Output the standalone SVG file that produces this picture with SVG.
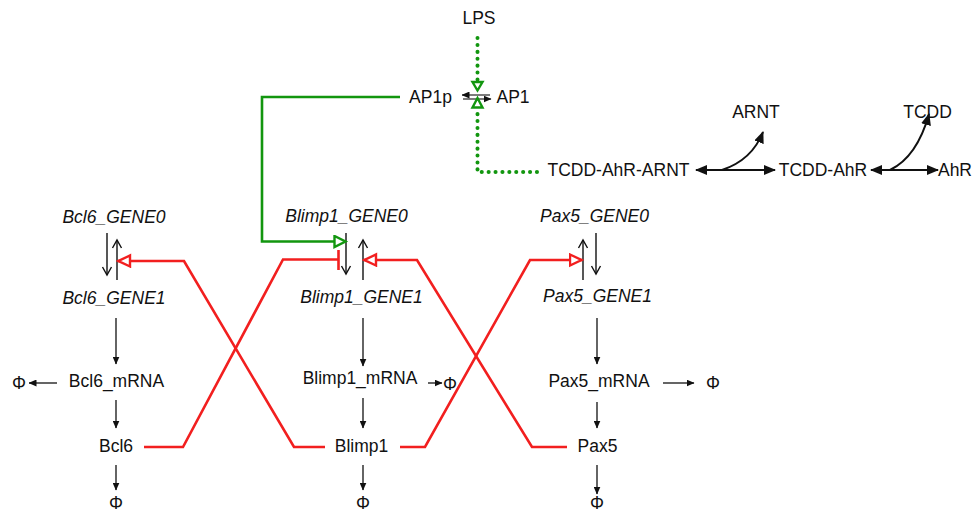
<svg xmlns="http://www.w3.org/2000/svg" width="977" height="512" viewBox="0 0 977 512">
<style>
text{font-family:"Liberation Sans",Arial,sans-serif;font-size:17.5px;fill:#111;text-anchor:middle}
.it{font-style:italic}
.thin{stroke:#111;stroke-width:1.3;fill:none;marker-end:url(#tri)}
.gene{stroke:#111;stroke-width:1.4;fill:none;marker-end:url(#vh)}
.bold{stroke:#111;stroke-width:2;fill:none}
.red{stroke:#f21f1f;stroke-width:2.6;fill:none;stroke-linejoin:miter}
.grn{stroke:#12960f;stroke-width:2.6;fill:none}
.dot{stroke:#12960f;stroke-width:4;fill:none;stroke-dasharray:0.1 6.8;stroke-linecap:round;stroke-linejoin:round}
</style>
<defs>
<marker id="tri" markerUnits="userSpaceOnUse" markerWidth="8" markerHeight="7" refX="7.5" refY="3.5" orient="auto"><path d="M0,0 L8,3.5 L0,7 z" fill="#111"/></marker>
<marker id="vh" markerUnits="userSpaceOnUse" markerWidth="12" markerHeight="12" refX="10" refY="6" orient="auto"><path d="M2,1.5 L10,6 L2,10.5" fill="none" stroke="#111" stroke-width="1.4"/></marker>
<marker id="big" markerUnits="userSpaceOnUse" markerWidth="12" markerHeight="10" refX="11" refY="5" orient="auto-start-reverse"><path d="M0,0 L12,5 L0,10 z" fill="#111"/></marker>
<marker id="gt" markerUnits="userSpaceOnUse" markerWidth="16" markerHeight="16" refX="13" refY="7" orient="auto"><path d="M1.5,1.5 L12.5,7 L1.5,12.5 z" fill="#fff" stroke="#12960f" stroke-width="2.4"/></marker>
<marker id="rt" markerUnits="userSpaceOnUse" markerWidth="16" markerHeight="16" refX="13.5" refY="7" orient="auto"><path d="M1.5,1.5 L13,7 L1.5,12.5 z" fill="#fff" stroke="#f21f1f" stroke-width="2.4"/></marker>
</defs>
<g id="connectors">
<!-- gene switches -->
<path class="gene" d="M107,233 L107,275"/>
<path class="gene" d="M117,280 L117,240"/>
<path class="gene" d="M346,233 L346,274"/>
<path class="gene" d="M363,280 L363,240"/>
<path class="gene" d="M583,280 L583,240"/>
<path class="gene" d="M596,233 L596,274"/>
<!-- production / degradation -->
<path class="thin" d="M116,318 L116,364"/>
<path class="thin" d="M116,400 L116,428"/>
<path class="thin" d="M116,465 L116,490"/>
<path class="thin" d="M57,383 L29,383"/>
<path class="thin" d="M363,318 L363,366"/>
<path class="thin" d="M363,398 L363,428"/>
<path class="thin" d="M363,465 L363,490"/>
<path class="thin" d="M428,383 L442,383"/>
<path class="thin" d="M597,318 L597,364"/>
<path class="thin" d="M597,402 L597,428"/>
<path class="thin" d="M597,465 L597,494"/>
<path class="thin" d="M663,383 L694,383"/>
<!-- AP1 reversible -->
<path class="thin" d="M490,95 L462,95" style="stroke-width:1.1"/>
<path class="thin" d="M463,99 L491,99" style="stroke-width:1.1"/>
<!-- TCDD reactions -->
<path class="bold" d="M696,170 L775,170" marker-start="url(#big)" marker-end="url(#big)"/>
<path class="bold" d="M722,170 Q752,160 763,132" marker-end="url(#big)"/>
<path class="bold" d="M871,170 L938,170" marker-start="url(#big)" marker-end="url(#big)"/>
<path class="bold" d="M890,170 Q917,157 929,114" marker-end="url(#big)"/>
<!-- red regulation -->
<path class="red" d="M325,447 L294,447 L184,261 L118,261" marker-end="url(#rt)"/>
<path class="red" d="M144,447 L183,447 L283,259.5 L338,259.5"/>
<path class="red" d="M338.5,250 L338.5,270"/>
<path class="red" d="M567,447 L532,447 L417,260 L364,260" marker-end="url(#rt)"/>
<path class="red" d="M400,447 L425,447 L530,260 L582,260" marker-end="url(#rt)"/>
<!-- green regulation -->
<path class="grn" d="M400,97 L262,97 L262,241.5 L346,241.5" marker-end="url(#gt)"/>
<path class="dot" d="M477.5,38 L477.5,80"/>
<path class="dot" d="M537,172 L477.5,172 L477.5,110"/>
<path d="M472.5,82 L482.5,82 L477.5,90.5 z" fill="#fff" stroke="#12960f" stroke-width="2.4"/>
<path d="M472.5,107.5 L482.5,107.5 L477.5,98 z" fill="#fff" stroke="#12960f" stroke-width="2.4"/>
</g>
<g id="LPS"><text x="479" y="24">LPS</text></g>
<g id="AP1p"><text x="430.5" y="103">AP1p</text></g>
<g id="AP1"><text x="513" y="103">AP1</text></g>
<g id="ARNT"><text x="756" y="118">ARNT</text></g>
<g id="TCDD"><text x="927.5" y="118">TCDD</text></g>
<g id="TCDD-AhR-ARNT"><text x="618.5" y="176">TCDD-AhR-ARNT</text></g>
<g id="TCDD-AhR"><text x="823" y="176">TCDD-AhR</text></g>
<g id="AhR"><text x="955" y="176">AhR</text></g>
<g id="Bcl6_GENE0"><text class="it" x="114" y="223">Bcl6_GENE0</text></g>
<g id="Bcl6_GENE1"><text class="it" x="114" y="304">Bcl6_GENE1</text></g>
<g id="Bcl6_mRNA"><text x="116.5" y="387">Bcl6_mRNA</text></g>
<g id="Bcl6"><text x="116" y="452">Bcl6</text></g>
<g id="Blimp1_GENE0"><text class="it" x="346.5" y="222">Blimp1_GENE0</text></g>
<g id="Blimp1_GENE1"><text class="it" x="361.5" y="303">Blimp1_GENE1</text></g>
<g id="Blimp1_mRNA"><text x="360" y="384">Blimp1_mRNA</text></g>
<g id="Blimp1"><text x="361.5" y="452">Blimp1</text></g>
<g id="Pax5_GENE0"><text class="it" x="594.5" y="222">Pax5_GENE0</text></g>
<g id="Pax5_GENE1"><text class="it" x="597.5" y="302">Pax5_GENE1</text></g>
<g id="Pax5_mRNA"><text x="599" y="387">Pax5_mRNA</text></g>
<g id="Pax5"><text x="597.5" y="452">Pax5</text></g>
<g id="phi_bcl6_mrna"><text x="19" y="389">Φ</text></g>
<g id="phi_blimp1_mrna"><text x="450" y="390">Φ</text></g>
<g id="phi_pax5_mrna"><text x="713" y="389">Φ</text></g>
<g id="phi_bcl6"><text x="116" y="509">Φ</text></g>
<g id="phi_blimp1"><text x="363" y="509">Φ</text></g>
<g id="phi_pax5"><text x="597" y="509">Φ</text></g>
</svg>
